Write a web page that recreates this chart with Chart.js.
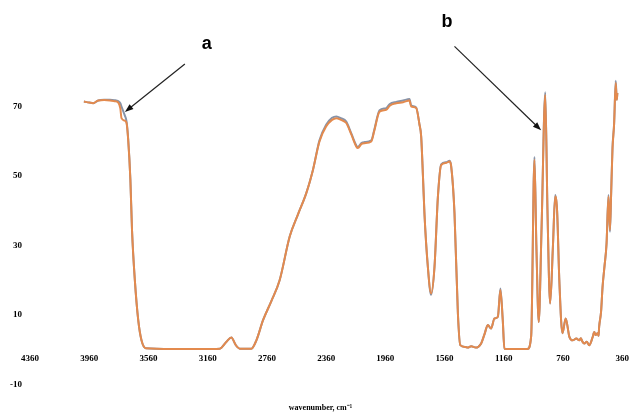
<!DOCTYPE html>
<html>
<head>
<meta charset="utf-8">
<script src="https://cdn.jsdelivr.net/npm/chart.js@4.4.1/dist/chart.umd.min.js"></script>
<style>
  html, body { margin: 0; padding: 0; background: #fff; overflow: hidden; }
  #wrap { width: 629px; height: 414px; overflow: hidden; }
</style>
</head>
<body>
<!-- canvas a bit wider than the window so the last "360" tick is cut at the edge like the original -->
<div id="wrap"><canvas id="chart" width="633" height="414"></canvas></div>
<script>
// FTIR spectra (wavenumber in cm-1, transmittance %)
const wavenumbers = [
  3996, 3960, 3933, 3899, 3860, 3820, 3790, 3764, 3750, 3742, 3720, 3708, 3697, 3682, 3671, 3652, 3629, 3607, 3578,
  3400, 3200, 3078, 3033, 3000, 2970, 2943, 2865, 2831, 2786, 2730, 2674, 2606, 2550, 2494, 2449, 2405, 2360,
  2320, 2291, 2260, 2224, 2190, 2156, 2146, 2120, 2100, 2055, 2035, 1999, 1954, 1930, 1887, 1840, 1797, 1786,
  1752, 1730, 1718, 1706, 1696, 1673, 1651, 1628, 1605, 1583, 1550, 1527, 1516, 1493, 1470, 1454, 1420, 1403,
  1380, 1350, 1313, 1290, 1268, 1246, 1223, 1200, 1183, 1167, 1156, 1100, 1000, 975, 953, 940, 924, 905, 880,
  865, 847, 828, 813, 800, 785, 764, 742, 717, 695, 670, 650, 640, 630, 616, 600, 583, 560, 549, 540, 527, 520,
  516, 503, 493, 480, 466, 453, 443, 435, 426, 415, 404, 397, 393
];
const sampleOrange = [
  71.5, 71.2, 71.0, 71.8, 71.9, 71.8, 71.6, 71.2, 69.5, 66.7, 66.0, 65.3, 60.5, 48.9, 34.5, 20.1, 8.5, 2.7, 0.4,
  0.2, 0.2, 0.3, 2.3, 3.5, 1.3, 0.3, 0.3, 2.7, 8.5, 14, 20, 32.6, 39, 45.1, 51.8, 60, 64.3,
  66.2, 66.7, 66.2, 65.3, 62, 58.5, 58.1, 59.3, 59.5, 60, 63, 68.6, 69.1, 70.3, 71.0, 71.3, 71.8, 70.1,
  69.6, 65, 61.4, 50, 39.3, 23.9, 16.2, 23.9, 44.1, 53.2, 53.8, 54.2, 53, 39.3, 10.4, 1.3, 0.8, 0.6,
  1.0, 0.6, 1.8, 4.5, 7.1, 6.1, 9, 9.5, 17.2, 8.5, 0.3, 0.2, 0.2, 4, 54.7, 30, 8.0, 35, 73.4,
  40, 13.3, 30, 44.1, 40, 20, 4.7, 9, 3.7, 2.7, 3.2, 2.7, 3.3, 2.4, 1.8, 2.3, 1.3, 3.6, 5.1, 4.2, 4.7, 4.0,
  6.6, 11, 18.1, 24, 30.6, 44.1, 34.5, 45, 57.6, 65, 76.8, 72, 74
];
const sampleGrey = [
  71.5, 71.2, 71.0, 71.8, 72.0, 72.0, 71.9, 71.6, 71.0, 70.0, 67.5, 65.8, 60.8, 49.0, 34.5, 20.1, 8.5, 2.7, 0.4,
  0.2, 0.2, 0.3, 2.3, 3.5, 1.3, 0.3, 0.3, 2.7, 8.5, 14, 20, 32.6, 39, 45.1, 51.8, 60.3, 64.8,
  66.8, 67.2, 66.7, 65.7, 62.3, 58.8, 58.4, 59.6, 59.8, 60.3, 63.3, 69.0, 69.6, 70.8, 71.4, 71.8, 72.2, 70.4,
  69.8, 65, 61.4, 50, 39.3, 23.9, 15.8, 23.9, 44.1, 53.4, 54.0, 54.4, 53, 39.3, 10.4, 1.3, 0.8, 0.6,
  1.0, 0.6, 1.8, 4.5, 7.1, 6.1, 9, 9.5, 17.6, 8.5, 0.3, 0.2, 0.2, 4, 55.5, 30, 8.0, 35, 74.2,
  40, 13.3, 30, 44.6, 40, 20, 4.7, 9, 3.7, 2.7, 3.2, 2.7, 3.3, 2.4, 1.8, 2.3, 1.3, 3.6, 5.1, 4.2, 4.7, 4.0,
  6.6, 11, 18.1, 24, 30.6, 44.6, 34.0, 45, 58.2, 65, 77.5, 72, 74
];
const xTicks = [4360, 3960, 3560, 3160, 2760, 2360, 1960, 1560, 1160, 760, 360];
const yTicks = [-10, 10, 30, 50, 70];

// annotation labels and arrows, in data units
const notes = [
  { text: 'a', at: [3166, 86.6], from: [3314, 82.3], to: [3719, 68.5] },
  { text: 'b', at: [1544, 93.0], from: [1493, 87.4], to: [908, 63.2] }
];

const ORANGE = '#e38a4e';
const GREY = '#8793a8';
const tickFont = { family: "'Liberation Serif', 'Times New Roman', serif", size: 9, weight: 'bold' };

const annotate = {
  id: 'annotate',
  afterDatasetsDraw(chart) {
    const { ctx, scales: { x, y } } = chart;
    ctx.save();
    notes.forEach(n => {
      ctx.fillStyle = '#000';
      ctx.font = "bold 18px 'Liberation Sans', Arial, sans-serif";
      ctx.textAlign = 'center';
      ctx.textBaseline = 'alphabetic';
      ctx.fillText(n.text, x.getPixelForValue(n.at[0]), y.getPixelForValue(n.at[1]));

      const x1 = x.getPixelForValue(n.from[0]), y1 = y.getPixelForValue(n.from[1]);
      const x2 = x.getPixelForValue(n.to[0]), y2 = y.getPixelForValue(n.to[1]);
      const ang = Math.atan2(y2 - y1, x2 - x1);
      const head = 9;
      ctx.strokeStyle = '#222';
      ctx.lineWidth = 1.2;
      ctx.beginPath();
      ctx.moveTo(x1, y1);
      ctx.lineTo(x2 - Math.cos(ang) * head * 0.8, y2 - Math.sin(ang) * head * 0.8);
      ctx.stroke();
      ctx.fillStyle = '#111';
      ctx.beginPath();
      ctx.moveTo(x2, y2);
      ctx.lineTo(x2 - head * Math.cos(ang - 0.35), y2 - head * Math.sin(ang - 0.35));
      ctx.lineTo(x2 - head * Math.cos(ang + 0.35), y2 - head * Math.sin(ang + 0.35));
      ctx.closePath();
      ctx.fill();
    });
    ctx.restore();
  }
};

const toPoints = vals => wavenumbers.map((w, i) => ({ x: w, y: vals[i] }));

new Chart(document.getElementById('chart'), {
  type: 'line',
  data: {
    datasets: [
      {
        label: 'sample 2',
        data: toPoints(sampleOrange),
        borderColor: ORANGE,
        borderWidth: 2,
        pointRadius: 0,
        cubicInterpolationMode: 'monotone',
        fill: false
      },
      {
        label: 'sample 1',
        data: toPoints(sampleGrey),
        borderColor: GREY,
        borderWidth: 2,
        pointRadius: 0,
        cubicInterpolationMode: 'monotone',
        fill: false
      }
    ]
  },
  options: {
    responsive: false,
    animation: false,
    layout: { padding: { left: 8, right: 0, top: 72, bottom: 0 } },
    plugins: {
      legend: { display: false },
      tooltip: { enabled: false },
      title: {
        display: true,
        position: 'bottom',
        text: 'wavenumber, cm\u207B\u00B9',
        color: '#000',
        font: { family: "'Liberation Serif', 'Times New Roman', serif", size: 8, weight: 'bold' },
        padding: { top: 19, bottom: 1 }
      }
    },
    scales: {
      x: {
        type: 'linear',
        reverse: true,
        min: 360,
        max: 4360,
        position: { y: 0 },
        afterBuildTicks: axis => { axis.ticks = xTicks.map(v => ({ value: v })); },
        grid: { display: false, drawTicks: false },
        border: { display: false },
        ticks: { color: '#000', font: tickFont, padding: 4, maxRotation: 0, autoSkip: false, callback: v => String(v) }
      },
      y: {
        min: -10,
        max: 80,
        afterBuildTicks: axis => { axis.ticks = yTicks.map(v => ({ value: v })); },
        afterFit: axis => { axis.width = 22; },
        grid: { display: false, drawTicks: false },
        border: { display: false },
        ticks: { color: '#000', font: tickFont, padding: 8 }
      }
    }
  },
  plugins: [annotate]
});
</script>
</body>
</html>
